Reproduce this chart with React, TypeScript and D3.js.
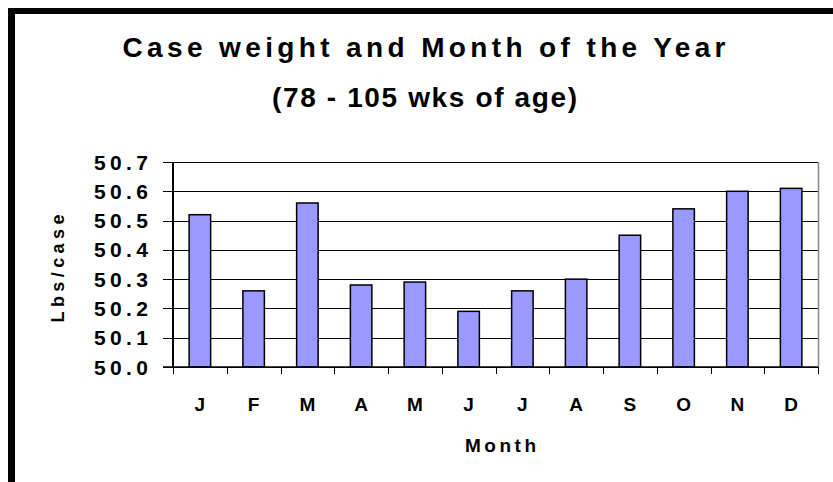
import React from "react";
import * as d3 from "d3";

const months = ["J", "F", "M", "A", "M", "J", "J", "A", "S", "O", "N", "D"];
const values = [50.52, 50.26, 50.56, 50.28, 50.29, 50.19, 50.26, 50.3, 50.45, 50.54, 50.6, 50.61];
const yTicks = [50.0, 50.1, 50.2, 50.3, 50.4, 50.5, 50.6, 50.7];
const titleLines = ["Case weight and Month of the Year", "(78 - 105 wks of age)"];
const xTitle = "Month";
const yTitle = "Lbs/case";

const W = 833;
const H = 482;
const plot = { left: 173, right: 818, top: 162, bottom: 367 };
const font = "'Liberation Sans', Arial, sans-serif";

export default function App() {
  const idx = months.map((_, i) => i);
  const x = d3.scaleBand<number>().domain(idx).range([plot.left, plot.right]).paddingInner(0.6).paddingOuter(0.3);
  const xb = d3.scaleLinear().domain([0, months.length]).range([plot.left, plot.right]);
  const y = d3.scaleLinear().domain([50.0, 50.7]).range([plot.bottom, plot.top]);

  return (
    <svg width={W} height={H} style={{ position: "absolute", left: 0, top: 0, background: "#fff" }}>
      <rect x={0} y={0} width={W} height={H} fill="#fff" />
      {/* frame */}
      <rect x={8} y={8} width={W - 8} height={6} fill="#000" />
      <rect x={8} y={8} width={7} height={H - 8} fill="#000" />

      {/* title */}
      <text x={424} y={57} textAnchor="middle" fontFamily={font} fontWeight="bold" fontSize={28}
        textLength={603} lengthAdjust="spacing" fill="#000">{titleLines[0]}</text>
      <text x={424.5} y={107} textAnchor="middle" fontFamily={font} fontWeight="bold" fontSize={28}
        textLength={305} lengthAdjust="spacing" fill="#000">{titleLines[1]}</text>

      {/* gridlines */}
      {yTicks.map((t, i) => (
        <line key={"g" + i} x1={plot.left - 10} x2={plot.right} y1={Math.round(y(t)) + 0.5} y2={Math.round(y(t)) + 0.5}
          stroke="#000" strokeWidth={1} />
      ))}
      {/* right border of plot */}
      <line x1={plot.right + 0.5} x2={plot.right + 0.5} y1={plot.top} y2={plot.bottom} stroke="#888" strokeWidth={1.5} />

      {/* bars */}
      {values.map((v, i) => (
        <rect key={"b" + i} x={x(i)!} y={y(v)} width={x.bandwidth()} height={plot.bottom - y(v)}
          fill="#9999FF" stroke="#000" strokeWidth={1.5} />
      ))}

      {/* axes */}
      <line x1={plot.left} x2={plot.left} y1={plot.top} y2={plot.bottom} stroke="#000" strokeWidth={2} />
      <line x1={plot.left - 10} x2={plot.right} y1={plot.bottom} y2={plot.bottom} stroke="#000" strokeWidth={1.5} />
      {d3.range(months.length + 1).map((i) => (
        <line key={"t" + i} x1={Math.round(xb(i)) + 0.5} x2={Math.round(xb(i)) + 0.5} y1={plot.bottom} y2={plot.bottom + 7}
          stroke="#000" strokeWidth={1} />
      ))}

      {/* y tick labels */}
      {yTicks.map((t, i) => (
        <text key={"yl" + i} x={148} y={y(t) + 7.5} textAnchor="end" fontFamily={font} fontWeight="bold" fontSize={21}
          textLength={54} lengthAdjust="spacing" fill="#000">{t.toFixed(1)}</text>
      ))}

      {/* x tick labels */}
      {months.map((m, i) => (
        <text key={"xl" + i} x={x(i)! + x.bandwidth() / 2} y={411} textAnchor="middle" fontFamily={font}
          fontWeight="bold" fontSize={19} fill="#000">{m}</text>
      ))}

      {/* axis titles */}
      <text x={(plot.left + plot.right) / 2 + 5} y={452} textAnchor="middle" fontFamily={font} fontWeight="bold"
        fontSize={19} textLength={71} lengthAdjust="spacing" fill="#000">{xTitle}</text>
      <text transform={`translate(64, ${(plot.top + plot.bottom) / 2 + 4}) rotate(-90)`} textAnchor="middle"
        fontFamily={font} fontWeight="bold" fontSize={18} textLength={108} lengthAdjust="spacing" fill="#000">{yTitle}</text>
    </svg>
  );
}
